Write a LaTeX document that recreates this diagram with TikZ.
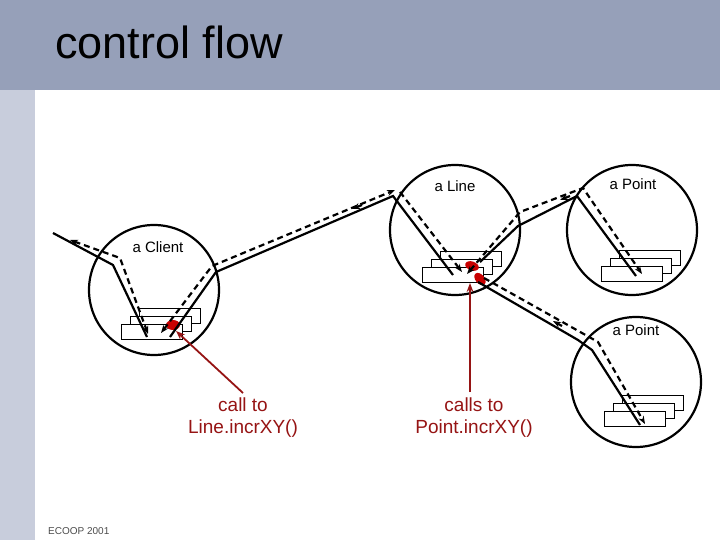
\documentclass[tikz,border=0pt]{standalone}
\usepackage{fontspec}
\setmainfont{Liberation Sans}
\usetikzlibrary{arrows.meta}
\definecolor{topbar}{RGB}{150,160,185}
\definecolor{sidebar}{RGB}{200,205,220}
\definecolor{dred}{RGB}{150,20,20}
\definecolor{blob}{RGB}{200,0,0}
\begin{document}
\begin{tikzpicture}[x=1pt,y=-1pt,
  obj/.style={draw,line width=2.2pt,circle,minimum size=130pt,inner sep=0},
  frame/.style={draw,line width=1.8pt,fill=white,minimum width=61pt,minimum height=15pt,inner sep=0},
  sol/.style={line width=2.2pt},
  dsh/.style={line width=2.2pt,dash pattern=on 6pt off 4pt,{Stealth[length=8pt]}-{Stealth[length=8pt]}},
  dsh1/.style={line width=2.2pt,dash pattern=on 6pt off 4pt,-{Stealth[length=8pt]}},
  midarr/.style={line width=2.2pt,-{Stealth[length=8pt]}},
  lbl/.style={font=\fontsize{15}{17}\selectfont},
  red lbl/.style={font=\fontsize{19}{22}\selectfont,text=dred,align=center},
  redarr/.style={draw=dred,line width=1.8pt,-{Stealth[length=9pt]}}]
\useasboundingbox (0,0) rectangle (720,540);
\fill[white] (0,0) rectangle (720,540);
\fill[topbar] (0,0) rectangle (720,90);
\fill[sidebar] (0,90) rectangle (35,540);
\node[anchor=west,inner sep=0,font=\fontsize{45}{50}\selectfont] (title) at (55,42) {control flow};
\node[anchor=west,inner sep=0,font=\fontsize{10}{12}\selectfont,text=black!70] (foot) at (48,531) {ECOOP 2001};
% objects
\node[obj] (client) at (154,290) {};
\node[obj] (line) at (455,230) {};
\node[obj] (p1) at (632,230) {};
\node[obj] (p2) at (636,382) {};
% frames
\foreach \n/\x/\y in {c/152/332,l/453/275,a/632/274,b/635/419}{
  \node[frame] (\n3) at (\x+18,\y-16) {};
  \node[frame] (\n2) at (\x+9,\y-8) {};
  \node[frame] (\n1) at (\x,\y) {};
}
% blobs
\fill[blob] (173,325) ellipse (7pt and 5pt);
\fill[blob,rotate around={-20:(472,266)}] (472,266) ellipse (7pt and 4.5pt);
\fill[blob,rotate around={-50:(480,279)}] (480,279) ellipse (7pt and 4.5pt);
% solid lines
\coordinate (s0) at (53,233);
\coordinate (s1) at (113,265);
\coordinate (s2) at (147,337);
\draw[sol] (s0) -- (s1) -- (s2);
\coordinate (s3) at (170,337);
\coordinate (s4) at (216,272);
\coordinate (s5) at (393,196);
\coordinate (s6) at (453,275);
\draw[sol] (s3) -- (s4) -- (s5) -- (s6);
\coordinate (s7) at (480,262);
\coordinate (s8) at (518,226);
\coordinate (s9) at (577,196);
\coordinate (s10) at (636,276);
\draw[sol] (s7) -- (s8) -- (s9) -- (s10);
\coordinate (s11) at (478,282);
\coordinate (s12) at (578,340);
\coordinate (s13) at (592,350);
\coordinate (s14) at (640,425);
\draw[sol] (s11) -- (s12) -- (s13) -- (s14);
% dashed flow
\coordinate (d0) at (70,240);
\coordinate (d1) at (120,258);
\coordinate (d2) at (148,334);
\draw[dsh] (d0) -- (d1) -- (d2);
\coordinate (d3) at (161,333);
\coordinate (d4) at (212,266);
\coordinate (d5) at (395,190);
\draw[dsh] (d3) -- (d4) -- (d5);
\draw[midarr] (362,205) -- (352,209);
\coordinate (d6) at (400,192);
\coordinate (d7) at (462,272);
\draw[dsh1] (d6) -- (d7);
\coordinate (d8) at (467,274);
\coordinate (d9) at (520,212);
\coordinate (d10) at (583,188);
\coordinate (d11) at (642,274);
\draw[dsh] (d8) -- (d9) -- (d10) -- (d11);
\draw[midarr] (570,196) -- (560,200);
\coordinate (d12) at (484,278);
\coordinate (d13) at (582,333);
\coordinate (d14) at (598,342);
\coordinate (d15) at (645,424);
\draw[dsh1] (d12) -- (d13) -- (d14) -- (d15);
\draw[midarr] (562,326) -- (553,321);
% labels
\node[lbl] (lc) at (158,247) {a Client};
\node[lbl] (ll) at (455,186) {a Line};
\node[lbl] (lp1) at (633,184) {a Point};
\node[lbl] (lp2) at (636,330) {a Point};
\node[red lbl] (t1) at (243,418) {call to\\Line.incrXY()};
\node[red lbl] (t2) at (474,418) {calls to\\Point.incrXY()};
\coordinate (r1) at (176,331);
\coordinate (r2) at (470,283);
\draw[redarr] (243,393) -- (r1);
\draw[redarr] (470,392) -- (r2);
\end{tikzpicture}
\end{document}
